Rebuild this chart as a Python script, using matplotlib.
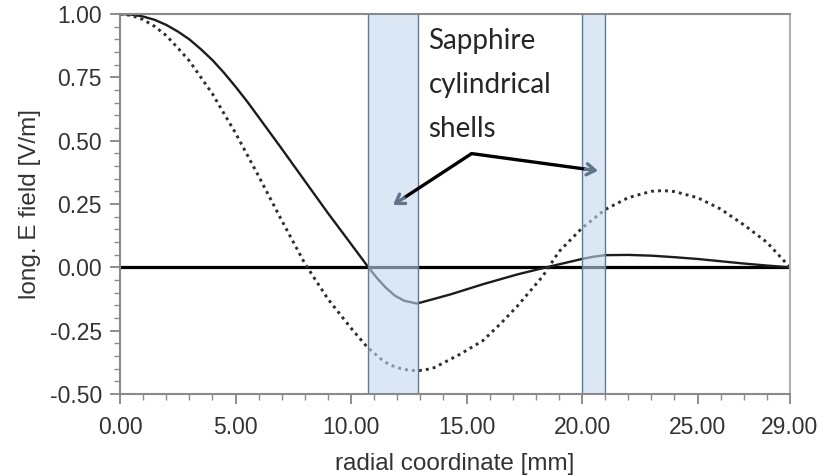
import matplotlib

matplotlib.use("Agg")

import matplotlib.pyplot as plt
from matplotlib.ticker import FixedLocator, MultipleLocator, FormatStrFormatter

# longitudinal field with the sapphire shells in place (solid)
r_loaded = [0.0, 0.5, 1.0, 1.5, 2.0, 2.5, 3.0, 3.5, 4.0, 4.5, 5.0, 5.5, 6.0, 7.0,
            8.0, 9.0, 10.0, 10.75, 11.1, 11.5, 11.9, 12.3, 12.85, 13.5, 14.3,
            15.7, 17.2, 18.45, 19.2, 20.0, 20.5, 21.0, 22.0, 23.0, 24.0, 25.0,
            26.0, 27.0, 28.0, 29.0]
e_loaded = [1.0, 0.9975, 0.99, 0.977, 0.957, 0.931, 0.90, 0.861, 0.818, 0.768, 0.713,
            0.655, 0.593, 0.468, 0.341, 0.214, 0.092, 0.0, -0.04, -0.08, -0.112, -0.132,
            -0.143, -0.127, -0.107, -0.067, -0.028, 0.0, 0.016, 0.033, 0.042, 0.048,
            0.049, 0.046, 0.040, 0.033, 0.024, 0.015, 0.007, 0.0]

# empty cavity reference (dotted)
r_empty = [0.0, 0.5, 1.0, 1.5, 2.0, 2.5, 3.0, 3.5, 4.0, 4.5, 5.0, 5.5, 6.0, 7.0,
           8.0, 9.0, 10.0, 10.7, 11.4, 11.7, 12.0, 12.3, 12.6, 12.9, 13.2, 13.6,
           14.7, 15.7, 16.5, 17.2, 18.3, 19.0, 20.0, 21.0, 22.0, 23.0, 23.5, 24.0,
           25.0, 26.0, 27.0, 28.0, 29.0]
e_empty = [1.0, 0.994, 0.978, 0.951, 0.915, 0.866, 0.815, 0.750, 0.685, 0.607, 0.53,
           0.445, 0.36, 0.185, 0.015, -0.125, -0.24, -0.315, -0.37, -0.385, -0.396,
           -0.403, -0.407, -0.408, -0.405, -0.396, -0.344, -0.29, -0.22, -0.153, -0.035,
           0.062, 0.155, 0.228, 0.275, 0.30, 0.303, 0.299, 0.275, 0.23, 0.168, 0.099, 0.0]

# sapphire shells, radial extent in mm
shells = [(10.75, 12.88), (20.0, 21.0)]

x_major = [0, 5, 10, 15, 20, 25, 29]

annotation_text = "Sapphire\ncylindrical\nshells"
arrow_apex = (15.22, 0.449)
arrow_tips = [(11.82, 0.246), (20.69, 0.381)]

fig = plt.figure(figsize=(8.37, 4.76), dpi=100)
ax = fig.add_axes([0.1434, 0.1723, 0.8004, 0.7983])

ax.axhline(0.0, color="black", lw=2.3, zorder=2)
ax.plot(r_loaded, e_loaded, color="#1c1c1c", lw=1.7, zorder=3)
ax.plot(r_empty, e_empty, color="#2e2e2e", lw=2.1, ls=(0, (1, 1.4)), zorder=3)

for left, right in shells:
    ax.axvspan(left, right, facecolor="#c3d8ee", alpha=0.6, edgecolor="none", zorder=4)
    for edge in (left, right):
        ax.axvline(edge, color="#5f7b97", lw=1.0, zorder=4)

ax.set_xlim(0, 29)
ax.set_ylim(-0.5, 1.0)

ax.xaxis.set_major_locator(FixedLocator(x_major))
ax.xaxis.set_minor_locator(MultipleLocator(1))
ax.xaxis.set_major_formatter(FormatStrFormatter("%.2f"))
ax.yaxis.set_major_locator(MultipleLocator(0.25))
ax.yaxis.set_minor_locator(MultipleLocator(0.05))
ax.yaxis.set_major_formatter(FormatStrFormatter("%.2f"))

for lab in ax.get_xticklabels() + ax.get_yticklabels():
    lab.set_fontfamily("Liberation Sans")
    lab.set_fontsize(16.5)
    lab.set_color("#333333")

ax.tick_params(which="major", direction="out", length=7, width=1.2, color="#7a7a7a")
ax.tick_params(which="minor", direction="out", length=4, width=1.0, color="#8a8a8a")
ax.tick_params(axis="x", which="major", pad=9)
ax.tick_params(axis="y", which="major", pad=6)

for side, spine in ax.spines.items():
    spine.set_color("#8a8a8a" if side != "right" else "#b0b0b0")
    spine.set_linewidth(1.5)
    spine.set_zorder(5)

ax.set_xlabel("radial coordinate [mm]", family="Liberation Sans", fontsize=17.5, color="#333333", labelpad=10)
ax.set_ylabel("long. E field [V/m]", family="Liberation Sans", fontsize=17.5, color="#333333", labelpad=6)

ax.text(13.35, 0.945, annotation_text, family="Lato", fontsize=20, color="#262626",
        va="top", ha="left", linespacing=1.85, zorder=6)


def point_along(start, end, frac):
    return (start[0] + (end[0] - start[0]) * frac, start[1] + (end[1] - start[1]) * frac)


for tip, frac in zip(arrow_tips, [0.86, 0.90]):
    neck = point_along(arrow_apex, tip, frac)
    ax.plot([arrow_apex[0], neck[0]], [arrow_apex[1], neck[1]], color="black", lw=2.4,
            solid_capstyle="round", zorder=6)
    ax.annotate("", xy=tip, xytext=neck,
                arrowprops=dict(arrowstyle="->,head_length=0.6,head_width=0.4",
                                color="#60758a", lw=2.4, shrinkA=0, shrinkB=0),
                zorder=6)

fig.savefig("out.png", dpi=100)
